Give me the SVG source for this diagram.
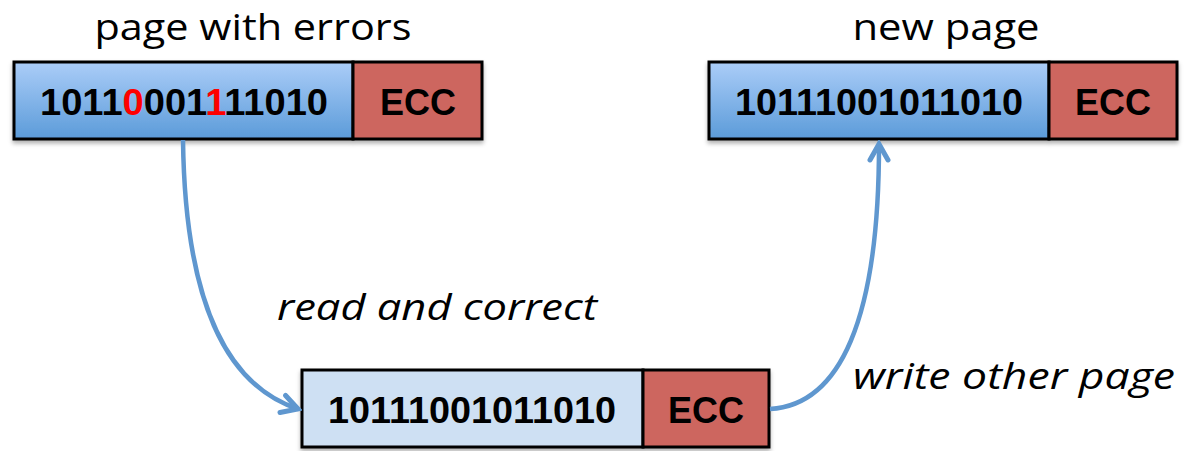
<svg xmlns="http://www.w3.org/2000/svg" width="1193" height="451" viewBox="0 0 1193 451">
  <defs>
    <linearGradient id="blueGrad" x1="0" y1="0" x2="0" y2="1">
      <stop offset="0" stop-color="#abcdf8"/>
      <stop offset="1" stop-color="#5b9bd9"/>
    </linearGradient>
    <filter id="shadow" x="-5%" y="-10%" width="110%" height="130%">
      <feDropShadow dx="0" dy="3" stdDeviation="2" flood-color="#000" flood-opacity="0.3"/>
    </filter>
    <marker id="arrow" viewBox="0 0 24 24" refX="20" refY="12" markerWidth="24" markerHeight="24" markerUnits="userSpaceOnUse" orient="auto">
      <path d="M4,3 L20,12 L4,21" fill="none" stroke="#5f97cf" stroke-width="5" stroke-linecap="round" stroke-linejoin="miter"/>
    </marker>
  </defs>
  <style>
    .cell { stroke: #000; stroke-width: 3; }
    .data { fill: url(#blueGrad); }
    .plain { fill: #cee0f3; }
    .ecc { fill: #cd665f; }
    .bits { font-family: "Liberation Sans", Arial, sans-serif; font-weight: bold; font-size: 36px; fill: #000; text-anchor: middle; }
    .err { fill: #ff0000; }
    .title { font-family: "Open Sans", "Liberation Sans", sans-serif; font-size: 37px; fill: #000; text-anchor: middle; }
    .note { font-family: "Open Sans", "Liberation Sans", sans-serif; font-style: italic; font-size: 37px; fill: #000; }
    .link { fill: none; stroke: #5f97cf; stroke-width: 4.5; }
  </style>

  <rect width="1193" height="451" fill="#fff"/>

  <!-- page holding bit errors -->
  <g id="page-with-errors">
    <text class="title" x="253" y="40" textLength="317" lengthAdjust="spacingAndGlyphs">page with errors</text>
    <g filter="url(#shadow)">
      <rect class="cell data" x="14" y="62" width="339" height="77"/>
      <rect class="cell ecc" x="353" y="62" width="129" height="77"/>
    </g>
    <text class="bits" x="184" y="115" textLength="288" lengthAdjust="spacingAndGlyphs">1011<tspan class="err">0</tspan>001<tspan class="err">1</tspan>11010</text>
    <text class="bits" x="418" y="115">ECC</text>
  </g>

  <!-- freshly written page -->
  <g id="new-page">
    <text class="title" x="946" y="40" textLength="187" lengthAdjust="spacingAndGlyphs">new page</text>
    <g filter="url(#shadow)">
      <rect class="cell data" x="709" y="62" width="340" height="77"/>
      <rect class="cell ecc" x="1049" y="62" width="128" height="77"/>
    </g>
    <text class="bits" x="879" y="115" textLength="288" lengthAdjust="spacingAndGlyphs">10111001011010</text>
    <text class="bits" x="1113" y="115">ECC</text>
  </g>

  <!-- corrected copy in the controller -->
  <g id="corrected-copy">
    <g filter="url(#shadow)">
      <rect class="cell plain" x="302" y="370" width="341" height="77"/>
      <rect class="cell ecc" x="643" y="370" width="126" height="77"/>
    </g>
    <text class="bits" x="472" y="423" textLength="288" lengthAdjust="spacingAndGlyphs">10111001011010</text>
    <text class="bits" x="706" y="423">ECC</text>
  </g>

  <!-- connectors -->
  <g id="connectors">
    <path class="link" d="M183,140 C185,300 225,385 298,409" marker-end="url(#arrow)"/>
    <path class="link" d="M770,409 C840,405 879,320 879,144" marker-end="url(#arrow)"/>
    <text class="note" x="277" y="320" textLength="320" lengthAdjust="spacingAndGlyphs">read and correct</text>
    <text class="note" x="853" y="389" textLength="322" lengthAdjust="spacingAndGlyphs">write other page</text>
  </g>
</svg>
